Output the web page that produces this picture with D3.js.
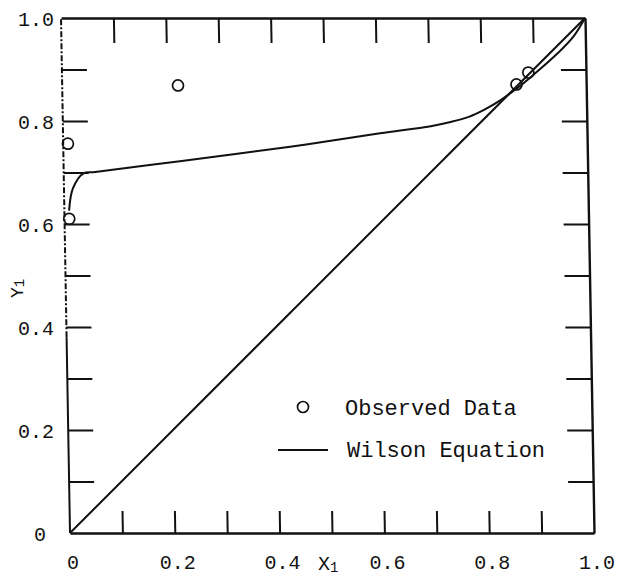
<!DOCTYPE html>
<html>
<head>
<meta charset="utf-8">
<script src="https://cdn.jsdelivr.net/npm/d3@7"></script>
<style>
  body { margin: 0; background: #fff; }
  svg { display: block; }
  text { font-family: "Liberation Mono", "DejaVu Sans Mono", monospace; fill: #111; }
</style>
</head>
<body>
<svg id="chart" width="618" height="577"></svg>
<script>
// Tick positions (every 0.1) and the labelled subset
const tickValues = d3.range(0, 11).map(i => i / 10);
const labelValues = [0, 0.2, 0.4, 0.6, 0.8, 1.0];
const axisLabels = ["0", "0.2", "0.4", "0.6", "0.8", "1.0"];

// Wilson equation fit: vapour mole fraction y1 against liquid mole fraction x1
const wilsonX = [0.009, 0.017, 0.037, 0.06, 0.222, 0.433, 0.605, 0.702, 0.740, 0.775, 0.805, 0.837, 0.866, 0.900, 0.945, 0.978, 1.0];
const wilsonY = [0.626, 0.669, 0.698, 0.701, 0.722, 0.750, 0.776, 0.790, 0.798, 0.808, 0.822, 0.841, 0.862, 0.890, 0.930, 0.965, 1.0];

// Observed equilibrium data
const observedX = [0.221, 0.009, 0.009, 0.867, 0.890];
const observedY = [0.869, 0.756, 0.610, 0.871, 0.894];

// Reference diagonal y1 = x1
const diagonalX = [0, 1];

const legendLabels = ["Observed Data", "Wilson Equation"];

const ink = "#111";
const svg = d3.select("#chart");

const x = d3.scaleLinear().domain([0, 1]).range([70, 594]);
const y = d3.scaleLinear().domain([0, 1]).range([533, 18]);

// Plot frame is slightly sheared, as on the original typed sheet
const plot = svg.append("g")
  .attr("transform", `translate(0,${y(0)}) skewX(1) translate(0,${-y(0)})`);

function styleAxis(g, width) {
  g.selectAll(".domain").attr("stroke", ink).attr("stroke-width", width);
  g.selectAll(".tick line").attr("stroke", ink).attr("stroke-width", 2);
  g.selectAll(".tick text").remove();
}

const inner = tickValues.slice(1, -1);

plot.append("g")
  .attr("transform", `translate(0,${y(0)})`)
  .call(d3.axisBottom(x).tickValues(inner).tickSize(-22).tickSizeOuter(0).tickFormat(""))
  .call(g => styleAxis(g, 2.6));

plot.append("g")
  .attr("transform", `translate(0,${y(1)})`)
  .call(d3.axisTop(x).tickValues(inner).tickSize(-25).tickSizeOuter(0).tickFormat(""))
  .call(g => styleAxis(g, 2.6));

plot.append("g")
  .attr("transform", `translate(${x(1)},0)`)
  .call(d3.axisRight(y).tickValues(inner).tickSize(-25).tickSizeOuter(0).tickFormat(""))
  .call(g => styleAxis(g, 2.4));

plot.append("g")
  .attr("transform", `translate(${x(0)},0)`)
  .call(d3.axisLeft(y).tickValues(inner).tickSize(-25).tickSizeOuter(0).tickFormat(""))
  .call(g => styleAxis(g, 2))
  .call(g => g.select(".domain").remove());

// Left frame edge: solid low, broken higher up
plot.append("line")
  .attr("x1", x(0)).attr("x2", x(0))
  .attr("y1", y(0)).attr("y2", y(0.38))
  .attr("stroke", ink).attr("stroke-width", 2);
plot.append("line")
  .attr("x1", x(0)).attr("x2", x(0))
  .attr("y1", y(0.38)).attr("y2", y(1))
  .attr("stroke", ink).attr("stroke-width", 2)
  .attr("stroke-dasharray", "6,2,2,2");

// Diagonal
plot.append("path")
  .datum(diagonalX)
  .attr("d", d3.line().x(d => x(d)).y(d => y(d)))
  .attr("fill", "none").attr("stroke", ink).attr("stroke-width", 2);

// Wilson curve
plot.append("path")
  .datum(wilsonX.map((v, i) => [v, wilsonY[i]]))
  .attr("d", d3.line().x(d => x(d[0])).y(d => y(d[1])).curve(d3.curveCatmullRom.alpha(0.5)))
  .attr("fill", "none").attr("stroke", ink).attr("stroke-width", 2);

// Observed points
plot.selectAll("circle.obs")
  .data(observedX.map((v, i) => [v, observedY[i]]))
  .join("circle")
  .attr("class", "obs")
  .attr("cx", d => x(d[0])).attr("cy", d => y(d[1]))
  .attr("r", 5.5)
  .attr("fill", "none").attr("stroke", ink).attr("stroke-width", 1.7);

// Tick labels
svg.selectAll("text.xlab")
  .data(labelValues)
  .join("text")
  .attr("class", "xlab")
  .attr("x", d => x(d) + 3)
  .attr("y", 568.5)
  .attr("text-anchor", "middle")
  .attr("font-size", 20)
  .text((d, i) => axisLabels[i]);

svg.selectAll("text.ylab")
  .data(labelValues)
  .join("text")
  .attr("class", "ylab")
  .attr("x", d => d === 0 ? 46 : 54)
  .attr("y", d => y(d) + 8)
  .attr("text-anchor", "end")
  .attr("font-size", 20)
  .text((d, i) => axisLabels[i]);

// Axis titles
const xt = svg.append("text")
  .attr("x", 318).attr("y", 570)
  .attr("font-size", 20)
  .text("X");
xt.append("tspan").attr("font-size", 14).attr("dy", 2).text("1");

const yt = svg.append("text")
  .attr("transform", "translate(23,298) rotate(-90)")
  .attr("font-size", 18)
  .text("Y");
yt.append("tspan").attr("font-size", 14).attr("dy", 1).text("1");

// Legend
const legend = svg.append("g");
legend.append("circle")
  .attr("cx", 303).attr("cy", 407).attr("r", 5.5)
  .attr("fill", "none").attr("stroke", ink).attr("stroke-width", 1.7);
legend.append("text")
  .attr("x", 345).attr("y", 415)
  .attr("font-size", 22)
  .text(legendLabels[0]);
legend.append("line")
  .attr("x1", 278).attr("x2", 328).attr("y1", 450).attr("y2", 450)
  .attr("stroke", ink).attr("stroke-width", 1.8);
legend.append("text")
  .attr("x", 347).attr("y", 457)
  .attr("font-size", 22)
  .text(legendLabels[1]);
</script>
</body>
</html>
